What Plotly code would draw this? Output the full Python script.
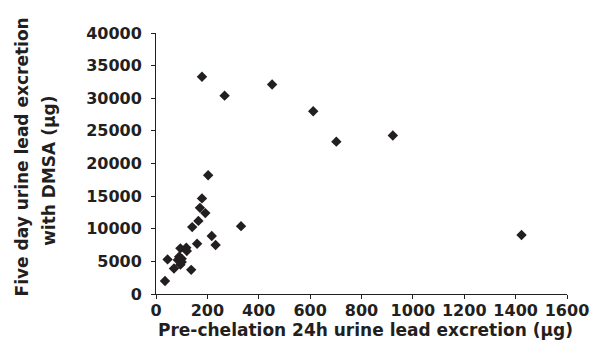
import plotly.graph_objects as go

pre_chelation_24h = [35, 45, 70, 85, 90, 95, 100, 95, 118, 120, 137, 141, 160, 165, 171, 179,
                     192, 203, 217, 232, 331, 179, 267, 452, 612, 702, 922, 1423, 100]
five_day_dmsa = [2000, 5300, 3900, 5200, 5700, 4500, 4900, 7000, 7100, 6600, 3700, 10250, 7700,
                 11200, 13200, 14650, 12400, 18200, 8900, 7500, 10400, 33300, 30400, 32100,
                 28000, 23350, 24300, 9050, 5400]

x_ticks = [0, 200, 400, 600, 800, 1000, 1200, 1400, 1600]
y_ticks = [0, 5000, 10000, 15000, 20000, 25000, 30000, 35000, 40000]

ink = "#231F20"
fam = "DejaVu Sans, sans-serif"
tick_font = dict(family=fam, size=16, color=ink)
title_font = dict(family=fam, size=17, color=ink)

fig = go.Figure()
fig.add_trace(go.Scatter(
    x=pre_chelation_24h, y=five_day_dmsa, mode="markers",
    marker=dict(symbol="diamond", size=8, color=ink, line=dict(width=0)),
    hoverinfo="skip", showlegend=False,
))

L, R, T, B = 156, 25, 33, 65
W, H = 601, 359
pw = W - L - R
ph = H - T - B

def px_to_paper_x(px):
    return (px - L) / pw

def px_to_paper_y(py):
    return (H - B - py) / ph

fig.update_layout(
    width=W, height=H,
    margin=dict(l=L, r=R, t=T, b=B, pad=0),
    paper_bgcolor="white", plot_bgcolor="white",
    font=tick_font,
    xaxis=dict(range=[0, 1600], tickvals=x_ticks, ticktext=[f"<b>{v}</b>" for v in x_ticks],
               showgrid=False, zeroline=False, showline=True, linecolor=ink, linewidth=1,
               ticks="outside", ticklen=4, tickcolor=ink, tickwidth=1,
               ticklabelstandoff=-2,
               tickfont=tick_font, fixedrange=True),
    yaxis=dict(range=[0, 40000], tickvals=y_ticks, ticktext=[f"<b>{v}</b>" for v in y_ticks],
               showgrid=False, zeroline=False, showline=True, linecolor=ink, linewidth=1,
               ticks="outside", ticklen=4, tickcolor=ink, tickwidth=1,
               ticklabelstandoff=6,
               tickfont=tick_font, fixedrange=True),
)

fig.add_annotation(text="<b>Pre-chelation 24h urine lead excretion (µg)</b>",
                   xref="paper", yref="paper", x=px_to_paper_x(370), y=px_to_paper_y(330),
                   xanchor="center", yanchor="middle", showarrow=False, font=title_font)
fig.add_annotation(text="<b>Five day urine lead excretion</b>",
                   xref="paper", yref="paper", x=px_to_paper_x(19.5), y=px_to_paper_y(157),
                   xanchor="center", yanchor="middle", textangle=-90, showarrow=False,
                   font=title_font)
fig.add_annotation(text="<b>with DMSA (µg)</b>",
                   xref="paper", yref="paper", x=px_to_paper_x(46.5), y=px_to_paper_y(171),
                   xanchor="center", yanchor="middle", textangle=-90, showarrow=False,
                   font=title_font)

fig.write_html("out.html")
